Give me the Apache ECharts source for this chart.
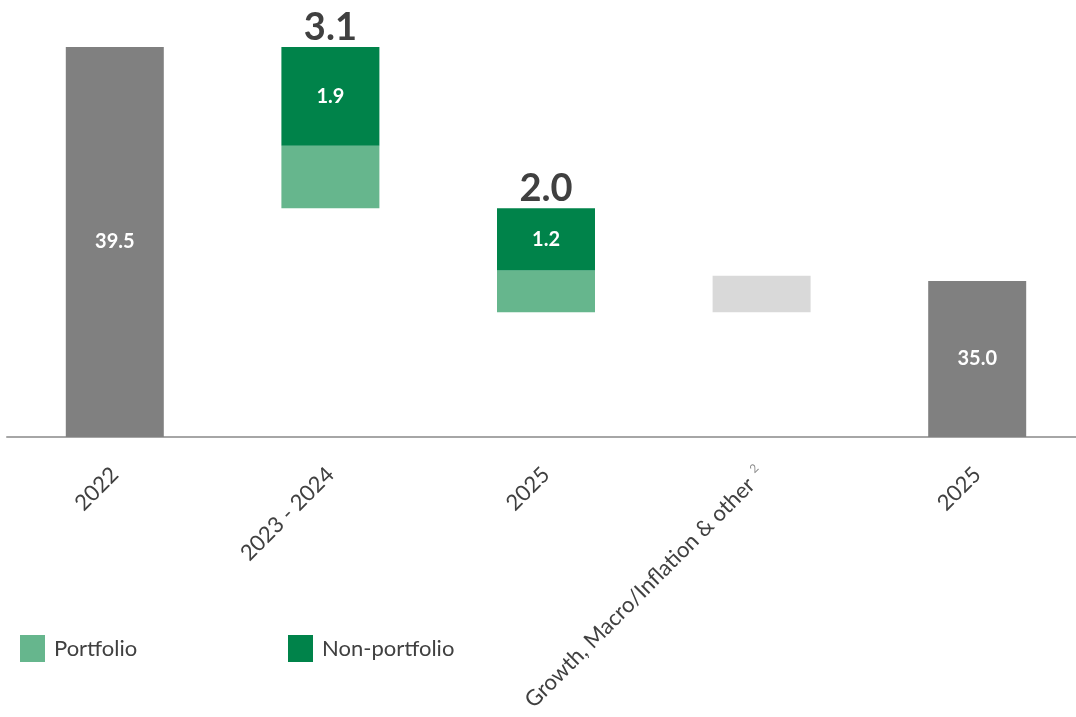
<!DOCTYPE html>
<html>
<head>
<meta charset="utf-8">
<script src="https://cdn.jsdelivr.net/npm/echarts@6/dist/echarts.min.js"></script>
<style>
  html, body { margin: 0; padding: 0; background: #fff; }
  #chart { width: 1076px; height: 717px; }
</style>
</head>
<body>
<div id="chart"></div>
<script>
// categories of the bridge
var categories = ['2022', '2023 - 2024', '2025', 'Growth, Macro/Inflation & other', '2025'];
var startValue = 39.5;   // 2022
var endValue = 35.0;     // 2025 (end)
// reductions per step (null where not used)
var portfolio = [null, 1.2, 0.8, null, null];
var nonPortfolio = [null, 1.9, 1.2, null, null];
// increase from growth / macro / inflation & other
var otherChange = [null, null, null, 0.7, null];

var FONT = 'Lato, "Noto Sans", sans-serif';
var DARK = '#404040';

// build waterfall offsets from the values above
var totals = [], base = [], sumBar = [];
var level = startValue;
for (var i = 0; i < categories.length; i++) {
  if (i === 0) { totals.push(startValue); base.push('-'); sumBar.push('-'); continue; }
  if (i === categories.length - 1) { totals.push(endValue); base.push('-'); sumBar.push('-'); continue; }
  totals.push('-');
  if (portfolio[i] != null) {
    level = level - portfolio[i] - nonPortfolio[i];
    base.push(+level.toFixed(2));
    sumBar.push(0);
  } else {
    base.push(+level.toFixed(2));
    sumBar.push('-');
    level = level + otherChange[i];
  }
}
function orDash(arr) { return arr.map(function (v) { return v == null ? '-' : v; }); }

var chart = echarts.init(document.getElementById('chart'));
chart.setOption({
  animation: false,
  textStyle: { fontFamily: FONT },
  legend: [{
    data: ['Portfolio'],
    left: 20, top: 635, padding: 0,
    icon: 'rect', itemWidth: 25, itemHeight: 27,
    selectedMode: false,
    textStyle: { fontSize: 22, color: DARK, fontFamily: FONT, padding: [0, 0, 0, 4] }
  }, {
    data: ['Non-portfolio'],
    left: 288, top: 635, padding: 0,
    icon: 'rect', itemWidth: 25, itemHeight: 27,
    selectedMode: false,
    textStyle: { fontSize: 22, color: DARK, fontFamily: FONT, padding: [0, 0, 0, 4] }
  }],
  grid: { left: 7, width: 1078, top: 47, bottom: 280, containLabel: false, outerBoundsMode: 'none' },
  xAxis: {
    type: 'category',
    data: categories,
    axisLine: { lineStyle: { color: '#a6a6a6', width: 2 } },
    axisTick: { show: false },
    axisLabel: {
      interval: 0,
      rotate: 45,
      margin: 34,
      fontSize: 22,
      color: DARK,
      fontFamily: FONT,
      formatter: function (v, idx) {
        return idx === 3 ? v + '{sup|2}' : v;
      },
      rich: {
        sup: { fontSize: 12, color: '#8c8c8c', verticalAlign: 'top', padding: [0, 0, 14, 8] }
      }
    }
  },
  yAxis: {
    type: 'value',
    min: 32.0,
    max: 39.5,
    show: false,
    splitLine: { show: false }
  },
  series: [{
    name: 'Total',
    type: 'bar',
    stack: 'w',
    barWidth: 98,
    data: totals,
    itemStyle: { color: '#808080' },
    label: {
      show: true, position: 'inside', color: '#fff', fontSize: 20, fontWeight: 'bold', fontFamily: FONT,
      formatter: function (p) { return p.value.toFixed(1); }
    }
  }, {
    name: 'Base',
    type: 'bar',
    stack: 'w',
    data: base,
    itemStyle: { color: 'rgba(0,0,0,0)' },
    emphasis: { disabled: true }
  }, {
    name: 'Other',
    type: 'bar',
    stack: 'w',
    data: orDash(otherChange),
    itemStyle: { color: '#d9d9d9' }
  }, {
    name: 'Portfolio',
    type: 'bar',
    stack: 'w',
    data: orDash(portfolio),
    itemStyle: { color: '#66b68d' }
  }, {
    name: 'Non-portfolio',
    type: 'bar',
    stack: 'w',
    data: orDash(nonPortfolio),
    itemStyle: { color: '#00834a' },
    label: {
      show: true, position: 'inside', color: '#fff', fontSize: 20, fontWeight: 'bold', fontFamily: FONT,
      formatter: function (p) { return p.value.toFixed(1); }
    }
  }, {
    name: 'Step total',
    type: 'bar',
    stack: 'w',
    data: sumBar,
    itemStyle: { color: 'rgba(0,0,0,0)' },
    label: {
      show: true, position: 'top', distance: 0, color: DARK, fontSize: 38, fontWeight: 'bold', fontFamily: FONT,
      formatter: function (p) {
        return (portfolio[p.dataIndex] + nonPortfolio[p.dataIndex]).toFixed(1);
      }
    }
  }]
});
</script>
</body>
</html>
